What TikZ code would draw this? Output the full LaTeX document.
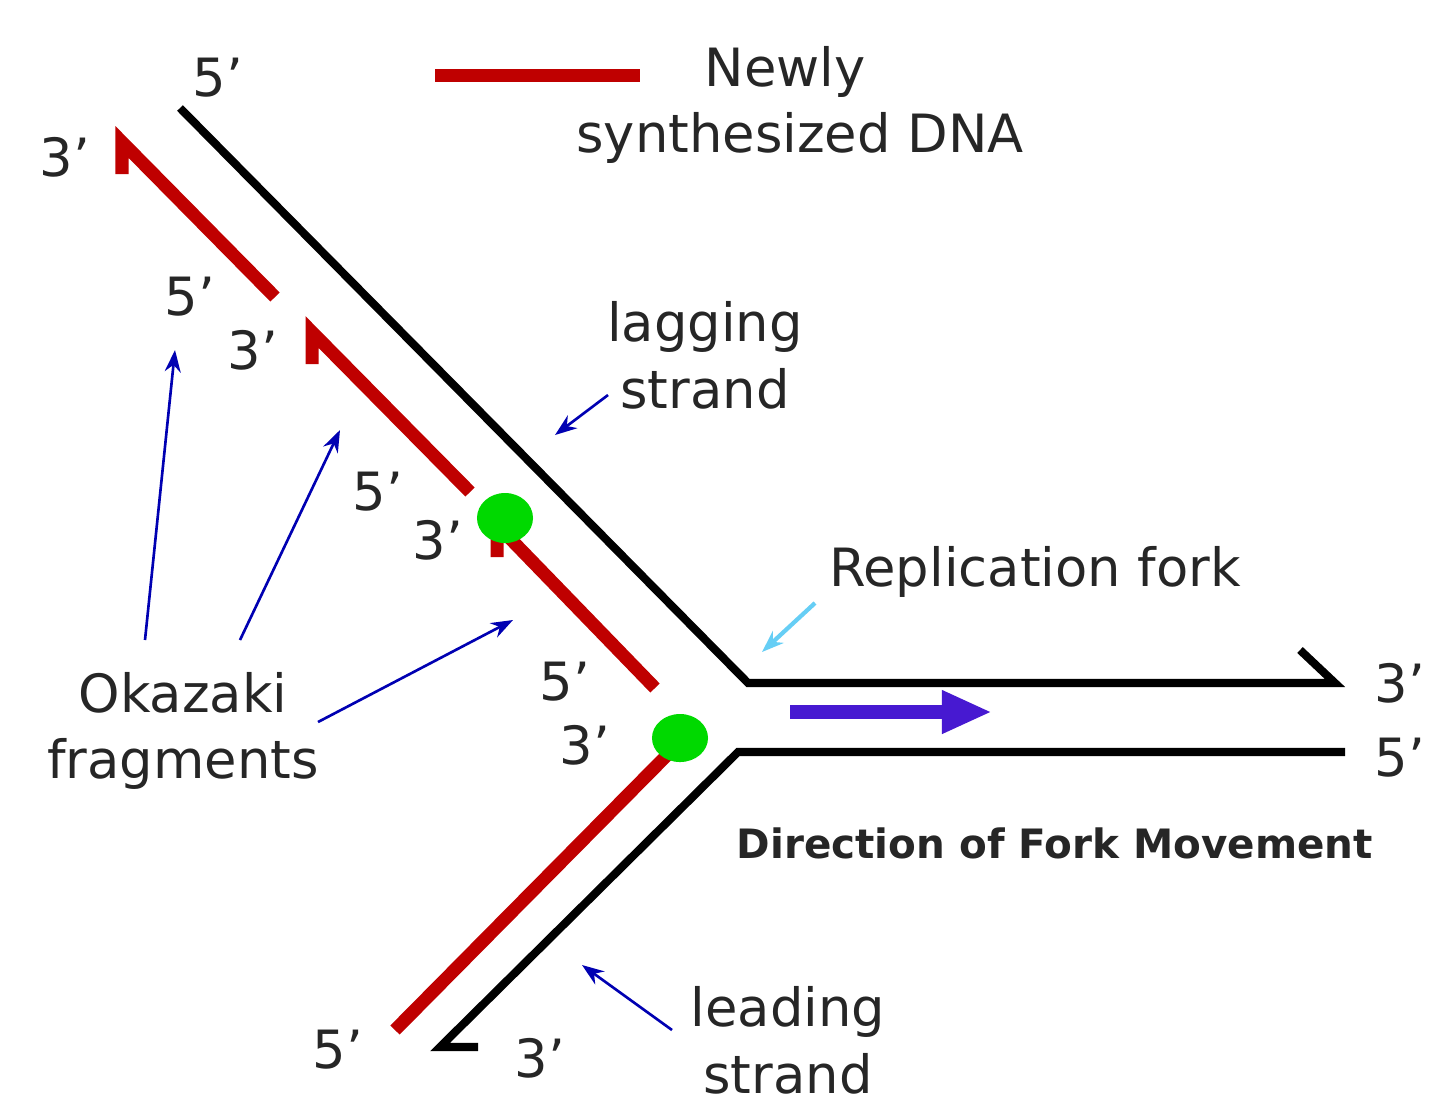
\documentclass[tikz,border=0pt]{standalone}
\usepackage{fontspec}
\setmainfont{DejaVu Sans}
\usetikzlibrary{arrows.meta,shapes.geometric}
\begin{document}
\begin{tikzpicture}[x=0.01cm,y=-0.01cm,
  dna/.style={line width=2.3pt,black,line cap=butt,line join=miter},
  newdna/.style={line width=3.7pt,red!75!black},
  ptr/.style={-{Stealth[length=0.22cm,width=0.16cm]},line width=0.75pt,blue!70!black},
  lbl/.style={font=\fontsize{15}{19}\selectfont,text=black!85,align=center},
  small/.style={font=\bfseries\fontsize{11.5}{14}\selectfont,text=black!85}]
\useasboundingbox (0,0) rectangle (1440,1108);
% legend
\coordinate (l1) at (435,75); \coordinate (l2) at (640,75);
\draw[newdna] (l1) -- (l2);
\node[lbl] (newly) at (785,72) {Newly};
\node[lbl] (synth) at (800,138) {synthesized DNA};
% template strands
\coordinate (t0) at (180,108); \coordinate (fk1) at (748,683); \coordinate (t1) at (1335,683); \coordinate (t2) at (1300,650);
\draw[dna] (t0) -- (fk1) -- (t1) -- (t2);
\coordinate (b0) at (1345,752); \coordinate (fk2) at (738,752); \coordinate (b1) at (440,1047); \coordinate (b2) at (478,1047);
\draw[dna] (b0) -- (fk2) -- (b1) -- (b2);
% Okazaki fragments
\foreach \sx/\sy/\ex/\ey/\n in {275/297/122/142/a, 470/492/312/332/b, 655/688/497/525/c}{
  \coordinate (s\n) at (\sx,\sy); \coordinate (e\n) at (\ex,\ey); \coordinate (h\n) at (\ex,\ey+32);
  \draw[newdna,line join=miter] (s\n) -- (e\n) -- (h\n);
}
% leading strand
\coordinate (ls) at (395,1030); \coordinate (le) at (682,740);
\draw[newdna] (ls) -- (le);
% polymerases
\node[ellipse,fill=green!85!black,minimum width=0.56cm,minimum height=0.5cm,inner sep=0] (p1) at (505,518) {};
\node[ellipse,fill=green!85!black,minimum width=0.56cm,minimum height=0.48cm,inner sep=0] (p2) at (680,738) {};
% fork movement
\coordinate (m1) at (790,712); \coordinate (m2) at (992,712);
\draw[-{Triangle[length=0.5cm,width=0.4cm]},line width=4pt,blue!60!violet!90!white] (m1) -- (m2);
% labels
\node[lbl] (a1) at (218,78) {5'};
\node[lbl] (a2) at (65,157) {3'};
\node[lbl] (a3) at (190,297) {5'};
\node[lbl] (a4) at (253,350) {3'};
\node[lbl] (a5) at (378,492) {5'};
\node[lbl] (a6) at (438,540) {3'};
\node[lbl] (a7) at (565,682) {5'};
\node[lbl] (a8) at (585,745) {3'};
\node[lbl] (a9) at (1400,683) {3'};
\node[lbl] (a10) at (1400,758) {5'};
\node[lbl] (a11) at (338,1050) {5'};
\node[lbl] (a12) at (540,1058) {3'};
\node[lbl] (lag) at (705,355) {lagging\\strand};
\node[lbl] (rep) at (1035,572) {Replication fork};
\node[lbl] (oka) at (183,731) {Okazaki\\fragments};
\node[small] (dir) at (1055,843) {Direction of Fork Movement};
\node[lbl] (lead) at (788,1040) {leading\\strand};
% pointers
\coordinate (q1) at (555,435); \coordinate (q1s) at (608,395);
\draw[ptr] (q1s) -- (q1);
\coordinate (q2) at (762,652); \coordinate (q2s) at (815,603);
\draw[ptr,cyan!60!white,line width=1.2pt] (q2s) -- (q2);
\coordinate (o1s) at (145,640); \coordinate (o1) at (175,350);
\coordinate (o2s) at (240,640); \coordinate (o2) at (340,430);
\coordinate (o3s) at (318,722); \coordinate (o3) at (513,620);
\draw[ptr] (o1s) -- (o1);
\draw[ptr] (o2s) -- (o2);
\draw[ptr] (o3s) -- (o3);
\coordinate (ld) at (582,965); \coordinate (lds) at (672,1030);
\draw[ptr] (lds) -- (ld);
\end{tikzpicture}
\end{document}
